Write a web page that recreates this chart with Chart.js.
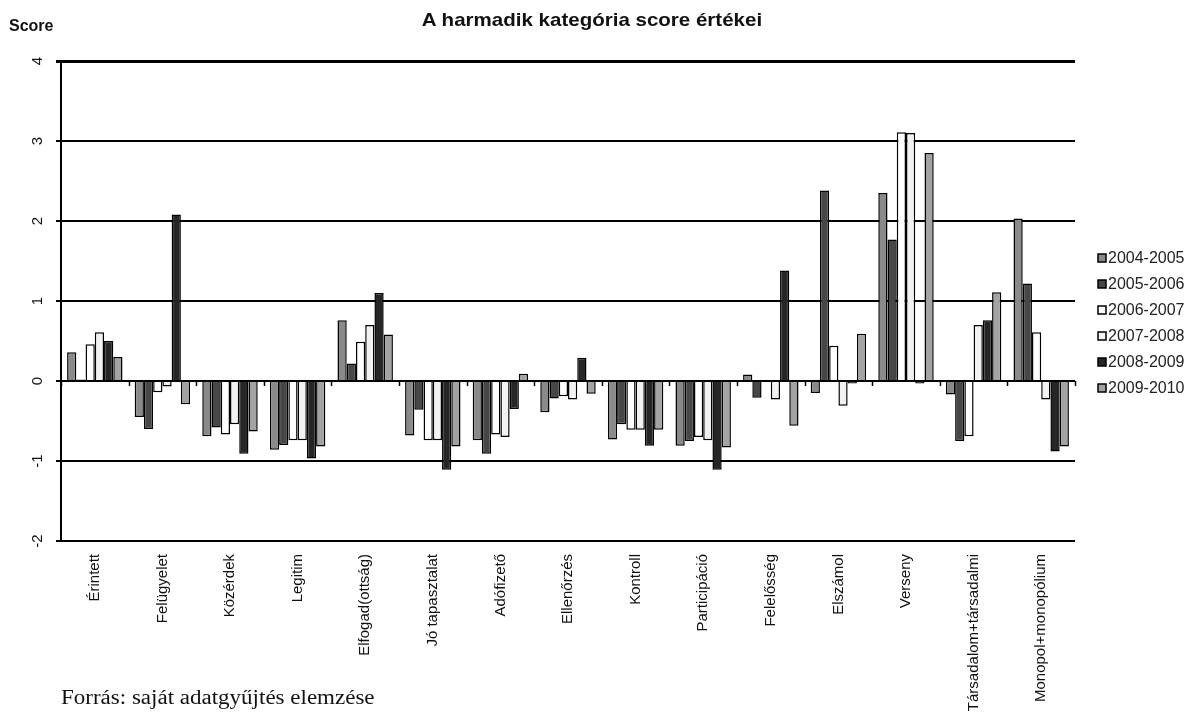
<!DOCTYPE html>
<html>
<head>
<meta charset="utf-8">
<script src="https://cdn.jsdelivr.net/npm/chart.js@4/dist/chart.umd.min.js"></script>
<style>
  body { margin: 0; background: #fff; }
  #wrap { position: relative; width: 1189px; height: 722px; }
  #title { position: absolute; left: 0; width: 1184px; top: 9px; text-align: center;
           font: bold 19px "Liberation Sans", Arial, sans-serif; color: #111; transform: scaleX(1.08); }
  #score { position: absolute; left: 9px; top: 17px; font: bold 16px "Liberation Sans", Arial, sans-serif; color: #111; }
  #source { position: absolute; left: 61px; top: 686px; font: 20px "Liberation Serif", "Times New Roman", serif; color: #111;
            transform: scaleX(1.15); transform-origin: left top; white-space: nowrap; }
</style>
</head>
<body>
<div id="wrap">
  <canvas id="chart" width="1189" height="722"></canvas>
  <div id="title">A harmadik kategória score értékei</div>
  <div id="score">Score</div>
  <div id="source">Forrás: saját adatgyűjtés elemzése</div>
</div>
<script>
var categories = ['Érintett', 'Felügyelet', 'Közérdek', 'Legitim', 'Elfogad(ottság)', 'Jó tapasztalat',
  'Adófizető', 'Ellenőrzés', 'Kontroll', 'Participáció', 'Felelősség', 'Elszámol', 'Verseny',
  'Társadalom+társadalmi', 'Monopol+monopólium'];

var periods = ['2004-2005', '2005-2006', '2006-2007', '2007-2008', '2008-2009', '2009-2010'];

var s2004 = [0.36, -0.45, -0.69, -0.86, 0.76, -0.68, -0.74, -0.39, -0.73, -0.81, 0.08, -0.15, 2.35, -0.17, 2.03];
var s2005 = [0.02, -0.60, -0.58, -0.80, 0.22, -0.36, -0.91, -0.22, -0.54, -0.75, -0.21, 2.38, 1.77, -0.75, 1.22];
var s2006 = [0.46, -0.14, -0.67, -0.74, 0.49, -0.74, -0.67, -0.19, -0.61, -0.70, -0.01, 0.44, 3.11, -0.69, 0.61];
var s2007 = [0.61, -0.07, -0.54, -0.74, 0.70, -0.74, -0.70, -0.23, -0.61, -0.74, -0.23, -0.31, 3.10, 0.70, -0.23];
var s2008 = [0.50, 2.08, -0.91, -0.97, 1.10, -1.11, -0.35, 0.29, -0.81, -1.11, 1.38, -0.03, -0.03, 0.76, -0.88];
var s2009 = [0.30, -0.29, -0.63, -0.82, 0.58, -0.82, 0.09, -0.16, -0.61, -0.83, -0.56, 0.59, 2.85, 1.11, -0.82];

var yTicks = [-2, -1, 0, 1, 2, 3, 4];

var seriesValues = [s2004, s2005, s2006, s2007, s2008, s2009];
var fills = ['#8a8a8a', '#474747', '#ffffff', '#f2f2f2', '#262626', '#a3a3a3'];

var font = '"Liberation Sans", Arial, sans-serif';

// rotated y labels, zero-line ticks and the small-box legend on the right
var extras = {
  id: 'extras',
  afterDraw: function (chart) {
    var ctx = chart.ctx;
    var ys = chart.scales.y;
    var xs = chart.scales.x;
    ctx.save();
    ctx.fillStyle = '#111';
    ctx.font = '15px ' + font;
    ctx.textAlign = 'center';
    ctx.textBaseline = 'middle';
    yTicks.forEach(function (v) {
      ctx.save();
      ctx.translate(38, ys.getPixelForValue(v));
      ctx.rotate(-Math.PI / 2);
      ctx.fillText(String(v), 0, 0);
      ctx.restore();
    });

    var y0 = ys.getPixelForValue(0);
    var half = (xs.getPixelForValue(1) - xs.getPixelForValue(0)) / 2;
    ctx.strokeStyle = '#000';
    ctx.lineWidth = 1.5;
    for (var i = 0; i <= categories.length; i++) {
      var px = Math.round(xs.getPixelForValue(i) - half) + 0.5;
      ctx.beginPath();
      ctx.moveTo(px, y0);
      ctx.lineTo(px, y0 + 5);
      ctx.stroke();
    }

    ctx.font = '16px ' + font;
    ctx.textAlign = 'left';
    chart.data.datasets.forEach(function (ds, k) {
      var ly = 258 + k * 26;
      ctx.fillStyle = ds.backgroundColor;
      ctx.fillRect(1098, ly - 4, 8, 8);
      ctx.lineWidth = 1.5;
      ctx.strokeStyle = '#000';
      ctx.strokeRect(1098, ly - 4, 8, 8);
      ctx.fillStyle = '#222';
      ctx.fillText(ds.label, 1108, ly + 1);
    });
    ctx.restore();
  }
};

new Chart(document.getElementById('chart'), {
  type: 'bar',
  data: {
    labels: categories,
    datasets: periods.map(function (p, i) {
      return {
        label: p,
        data: seriesValues[i],
        backgroundColor: fills[i],
        borderColor: '#000',
        borderWidth: 1.5,
        barPercentage: 1.0,
        categoryPercentage: 0.82
      };
    })
  },
  options: {
    responsive: false,
    animation: false,
    layout: { padding: { left: 0, right: 114, top: 61, bottom: 0 } },
    plugins: {
      title: { display: false },
      legend: { display: false },
      tooltip: { enabled: false }
    },
    scales: {
      x: {
        grid: { display: false },
        border: { display: false },
        ticks: {
          color: '#111',
          font: { family: font, size: 15 },
          minRotation: 90,
          maxRotation: 90,
          autoSkip: false,
          padding: 5
        },
        afterFit: function (scale) { scale.height = 181; }
      },
      y: {
        min: -2,
        max: 4,
        ticks: { stepSize: 1, display: false },
        grid: {
          color: '#000',
          lineWidth: function (c) { return c.tick && c.tick.value === 4 ? 3 : 2; },
          tickLength: 5,
          tickColor: '#000'
        },
        border: { display: true, color: '#000', width: 2 },
        afterFit: function (scale) { scale.width = 61; }
      }
    }
  },
  plugins: [extras]
});
</script>
</body>
</html>
